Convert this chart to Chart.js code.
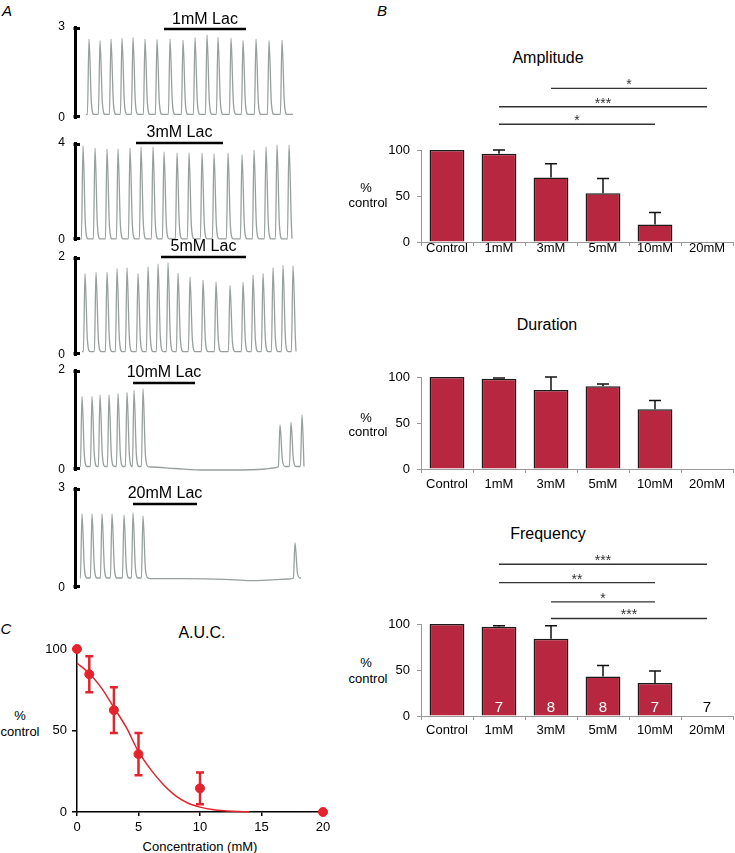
<!DOCTYPE html>
<html>
<head>
<meta charset="utf-8">
<title>Lactate responses</title>
<script src="https://cdn.jsdelivr.net/npm/chart.js@4.4.1/dist/chart.umd.min.js"></script>
<style>
  body { margin: 0; background: #fff; font-family: "Liberation Sans", Arial, sans-serif; }
  #fig { position: relative; width: 735px; height: 853px; overflow: hidden; }
  canvas { position: absolute; }
  .t { position: absolute; transform: translate(-50%, -50%); white-space: nowrap; line-height: 1; color: #000; font-size: 13px; }
  .p { font-style: italic; font-size: 15px; }
  .h { font-size: 16px; }
</style>
</head>
<body>
<div id="fig">
  <div class="t p" style="left:7px;top:10px">A</div>
  <div class="t p" style="left:382px;top:10px">B</div>
  <div class="t p" style="left:6px;top:628px">C</div>

  <canvas id="tr1" width="260" height="122" style="left:50px;top:0px"></canvas>
  <canvas id="tr2" width="260" height="128" style="left:50px;top:116px"></canvas>
  <canvas id="tr3" width="260" height="129" style="left:50px;top:230px"></canvas>
  <canvas id="tr4" width="260" height="131" style="left:50px;top:343px"></canvas>
  <canvas id="tr5" width="260" height="131" style="left:50px;top:461px"></canvas>

  <div class="t h" style="left:548px;top:58px">Amplitude</div>
  <div class="t" style="left:366px;top:187px">%</div>
  <div class="t" style="left:368px;top:202px">control</div>
  <canvas id="amp" width="375" height="224" style="left:360px;top:40px"></canvas>

  <div class="t h" style="left:547px;top:325px">Duration</div>
  <div class="t" style="left:366px;top:417px">%</div>
  <div class="t" style="left:368px;top:431px">control</div>
  <canvas id="dur" width="375" height="224" style="left:360px;top:267px"></canvas>

  <div class="t h" style="left:548px;top:534px">Frequency</div>
  <div class="t" style="left:366px;top:662px">%</div>
  <div class="t" style="left:368px;top:678px">control</div>
  <canvas id="freq" width="375" height="224" style="left:360px;top:514px"></canvas>

  <div class="t h" style="left:202px;top:633px">A.U.C.</div>
  <div class="t" style="left:20px;top:715px">%</div>
  <div class="t" style="left:20px;top:731px">control</div>
  <div class="t" style="left:200px;top:846px">Concentration (mM)</div>
  <canvas id="auc" width="360" height="233" style="left:0px;top:620px"></canvas>
</div>

<script>
// ---- panel A: recordings (peak time, peak ratio) ----
var tr1Peaks = [14, 25, 36, 47, 58, 70, 82, 95, 108, 120, 132, 143, 156, 168, 181, 194, 207];
var tr1Amps  = [2.60, 2.55, 2.60, 2.63, 2.65, 2.60, 2.59, 2.60, 2.57, 2.65, 2.74, 2.66, 2.63, 2.55, 2.60, 2.55, 2.57];
var tr2Peaks = [8, 20, 32, 43, 55, 66, 78, 89, 102, 114, 127, 139, 153, 167, 179, 191, 202, 214];
var tr2Amps  = [3.88, 3.79, 3.75, 3.75, 3.79, 3.84, 3.84, 3.63, 3.59, 3.59, 3.59, 3.55, 3.59, 3.51, 3.71, 3.84, 3.92, 3.92];
var tr3Peaks = [10, 21, 32, 42, 52, 63, 73, 83, 93, 103, 115, 128, 141, 155, 168, 178, 188, 198, 208, 218];
var tr3Amps  = [1.66, 1.69, 1.69, 1.76, 1.78, 1.66, 1.80, 1.86, 1.88, 1.67, 1.59, 1.53, 1.49, 1.42, 1.48, 1.63, 1.66, 1.78, 1.83, 1.82];
var tr4Peaks = [7, 17, 25, 34, 43, 52, 59, 68, 205, 216, 227];
var tr4Amps  = [1.47, 1.47, 1.50, 1.50, 1.53, 1.55, 1.59, 1.62, 0.90, 0.95, 1.10];
var tr4FlatT = [76, 100, 130, 160, 190, 198];
var tr4FlatV = [0.06, 0.03, 0.00, 0.00, 0.02, 0.04];
var tr5Peaks = [7, 17, 27, 37, 49, 58, 68, 220];
var tr5Amps  = [2.22, 2.22, 2.22, 2.22, 2.19, 2.25, 2.16, 1.35];
var tr5FlatT = [76, 110, 150, 175, 200, 214];
var tr5FlatV = [0.28, 0.28, 0.26, 0.22, 0.25, 0.27];

// ---- panel B: % control ----
var groups   = ['Control', '1mM', '3mM', '5mM', '10mM', '20mM'];
var ampMean  = [100, 96, 70, 53, 19, 0];
var ampSem   = [0, 4, 15, 16, 13, 0];
var durMean  = [100, 98, 86, 90, 65, 0];
var durSem   = [0, 1, 14, 2.5, 9.5, 0];
var freqMean = [100, 97, 84, 43, 36, 0];
var freqSem  = [0, 1, 14, 12, 13, 0];
var freqN    = ['', '7', '8', '8', '7', '7'];

var ampSigFrom  = [2, 1, 1];
var ampSigTo    = [5, 5, 4];
var ampSigLevel = [167, 147, 128];
var ampSigMark  = ['*', '***', '*'];
var freqSigFrom  = [1, 1, 2, 2];
var freqSigTo    = [5, 4, 4, 5];
var freqSigLevel = [165, 145, 124, 106];
var freqSigMark  = ['***', '**', '*', '***'];

// ---- panel C: A.U.C. ----
var aucConc = [0, 1, 3, 5, 10, 20];
var aucMean = [100, 84.5, 62.5, 35.5, 14.5, 0];
var aucSem  = [0, 11, 14, 13, 9.7, 0];
var fitConc = [0, 1, 2, 3, 4, 5, 6, 7, 8, 9, 10, 11, 12, 13, 14];
var fitVal  = [91.4, 85, 76, 64, 52, 37, 26, 17, 10, 5.5, 3, 1.5, 0.7, 0.3, 0.1];

var FONT = '"Liberation Sans", Arial, sans-serif';
var RED = '#e5232b';
var BAR = '#b72840';

Chart.defaults.font.family = FONT;
Chart.defaults.font.size = 13;
Chart.defaults.color = '#000';

// each transient: quick rise, fast fall then a short tail back to baseline
function buildTrace(peaks, amps, base, start, end, flatT, flatV) {
	var pts = [{x: start, y: base}, {x: end, y: base}];
	for (var i = 0; i < peaks.length; i++) {
		var h = amps[i];
		pts.push({x: peaks[i] - 1.6, y: base});
		pts.push({x: peaks[i], y: h});
		pts.push({x: peaks[i] + 2.4, y: base + (h - base) * 0.15});
		pts.push({x: peaks[i] + 5, y: base});
	}
	flatT = flatT || [];
	for (var j = 0; j < flatT.length; j++) {
		pts.push({x: flatT[j], y: flatV[j]});
	}
	pts = pts.filter(function(p) { return p.x >= start && p.x <= end; });
	pts.sort(function(a, b) { return a.x - b.x; });
	return pts;
}

var drugPlugin = {
	id: 'drug',
	afterDatasetsDraw: function(chart, args, opts) {
		var ctx = chart.ctx, xs = chart.scales.x, ys = chart.scales.y, area = chart.chartArea;
		ctx.save();
		// bracket ends of the scale bar
		ctx.strokeStyle = '#000';
		ctx.lineWidth = 3;
		ctx.beginPath();
		ctx.moveTo(area.left - 1.5, area.top + 1.5);
		ctx.lineTo(area.left + 5, area.top + 1.5);
		ctx.moveTo(area.left - 1.5, area.bottom - 1.5);
		ctx.lineTo(area.left + 5, area.bottom - 1.5);
		ctx.stroke();
		// application bar
		var x0 = xs.getPixelForValue(opts.from), x1 = xs.getPixelForValue(opts.to), y = ys.getPixelForValue(opts.level);
		ctx.lineWidth = 2.5;
		ctx.beginPath();
		ctx.moveTo(x0, y);
		ctx.lineTo(x1, y);
		ctx.stroke();
		ctx.fillStyle = '#000';
		ctx.font = '16px ' + FONT;
		ctx.textAlign = 'center';
		ctx.textBaseline = 'middle';
		ctx.fillText(opts.label, (x0 + x1) / 2, y - 10);
		ctx.restore();
	}
};

function traceChart(id, pts, yMax, drug) {
	return new Chart(document.getElementById(id), {
		type : 'line',
		data : {
			datasets : [ {
				data : pts,
				borderColor : '#98a09e',
				borderWidth : 1.3,
				pointRadius : 0,
				cubicInterpolationMode : 'monotone',
				clip : false
			} ]
		},
		options : {
			responsive : false,
			animation : false,
			devicePixelRatio : 1,
			layout : { padding : { top : 27, bottom : 4, right : 5, left : 0 } },
			plugins : { legend : { display : false }, tooltip : { enabled : false }, drug : drug },
			scales : {
				x : { type : 'linear', display : false, min : 0, max : 230 },
				y : {
					min : 0, max : yMax,
					afterFit : function(s) { s.width = 25; s.paddingTop = 0; s.paddingBottom = 0; },
					ticks : { stepSize : yMax, padding : 10, font : { size : 12 } },
					grid : { display : false, drawTicks : false },
					border : { color : '#000', width : 3 }
				}
			}
		},
		plugins : [ drugPlugin ]
	});
}

traceChart('tr1', buildTrace(tr1Peaks, tr1Amps, 0.12, 11, 218), 3, {label : '1mM Lac', from : 89, to : 171, level : 2.93});
traceChart('tr2', buildTrace(tr2Peaks, tr2Amps, 0.05, 5, 217), 4, {label : '3mM Lac', from : 61, to : 148, level : 4});
traceChart('tr3', buildTrace(tr3Peaks, tr3Amps, 0.07, 7, 221), 2, {label : '5mM Lac', from : 86, to : 171, level : 2});
traceChart('tr4', buildTrace(tr4Peaks, tr4Amps, 0.07, 5, 229, tr4FlatT, tr4FlatV), 2, {label : '10mM Lac', from : 58, to : 120, level : 1.74});
traceChart('tr5', buildTrace(tr5Peaks, tr5Amps, 0.30, 5, 226, tr5FlatT, tr5FlatV), 3, {label : '20mM Lac', from : 58, to : 122, level : 2.52});

function makeBarExtras(mean, sem, sigFrom, sigTo, sigLevel, sigMark, nLab) {
	return {
		id : 'extras',
		afterDatasetsDraw : function(chart) {
			var ctx = chart.ctx, xs = chart.scales.x, ys = chart.scales.y;
			ctx.save();
			// error bars (upper half only)
			ctx.strokeStyle = '#111';
			ctx.lineWidth = 1.5;
			for (var i = 0; i < mean.length; i++) {
				if (!sem[i]) continue;
				var bx = xs.getPixelForValue(i);
				var y0 = ys.getPixelForValue(mean[i]), y1 = ys.getPixelForValue(mean[i] + sem[i]);
				ctx.beginPath();
				ctx.moveTo(bx, y0);
				ctx.lineTo(bx, y1);
				ctx.moveTo(bx - 6, y1);
				ctx.lineTo(bx + 6, y1);
				ctx.stroke();
			}
			// significance lines
			ctx.strokeStyle = '#333';
			ctx.fillStyle = '#333';
			ctx.lineWidth = 1.4;
			ctx.font = '14px ' + FONT;
			ctx.textAlign = 'center';
			ctx.textBaseline = 'alphabetic';
			for (var k = 0; k < sigFrom.length; k++) {
				var xa = xs.getPixelForValue(sigFrom[k]), xb = xs.getPixelForValue(sigTo[k]);
				var yl = ys.getPixelForValue(sigLevel[k]);
				ctx.beginPath();
				ctx.moveTo(xa, yl);
				ctx.lineTo(xb, yl);
				ctx.stroke();
				ctx.fillText(sigMark[k], (xa + xb) / 2, yl + 1);
			}
			// n per group
			if (nLab) {
				ctx.font = '15px ' + FONT;
				ctx.textBaseline = 'middle';
				for (var j = 0; j < nLab.length; j++) {
					if (!nLab[j]) continue;
					ctx.fillStyle = mean[j] > 10 ? '#fff' : '#000';
					ctx.fillText(nLab[j], xs.getPixelForValue(j), ys.getPixelForValue(0) - 8);
				}
			}
			ctx.restore();
		}
	};
}

function barChart(id, mean, extras, labelPad) {
	return new Chart(document.getElementById(id), {
		type : 'bar',
		data : {
			labels : groups,
			datasets : [ {
				data : mean,
				backgroundColor : BAR,
				borderColor : '#1b1b1b',
				borderWidth : function(c) { return c.raw ? 1.5 : 0; },
				barPercentage : 0.67,
				categoryPercentage : 1
			} ]
		},
		options : {
			responsive : false,
			animation : false,
			devicePixelRatio : 1,
			layout : { padding : { top : 110, right : 2, left : 0, bottom : 0 } },
			plugins : { legend : { display : false }, tooltip : { enabled : false } },
			scales : {
				x : {
					afterFit : function(s) { s.height = 22; },
					grid : { drawOnChartArea : false, tickLength : 4, color : '#999' },
					border : { color : '#999' },
					ticks : { padding : labelPad, maxRotation : 0, autoSkip : false }
				},
				y : {
					min : 0, max : 100,
					afterFit : function(s) { s.width = 61; },
					ticks : { stepSize : 50, padding : 7 },
					grid : { drawOnChartArea : false, tickLength : 4, color : '#999' },
					border : { color : '#999' }
				}
			}
		},
		plugins : [ extras ]
	});
}

barChart('amp', ampMean, makeBarExtras(ampMean, ampSem, ampSigFrom, ampSigTo, ampSigLevel, ampSigMark), -5);
barChart('dur', durMean, makeBarExtras(durMean, durSem, [], [], [], []), 3.5);
barChart('freq', freqMean, makeBarExtras(freqMean, freqSem, freqSigFrom, freqSigTo, freqSigLevel, freqSigMark, freqN), 3);

var aucErrPlugin = {
	id : 'aucErr',
	afterDatasetsDraw : function(chart) {
		var ctx = chart.ctx, xs = chart.scales.x, ys = chart.scales.y;
		ctx.save();
		ctx.strokeStyle = RED;
		ctx.lineWidth = 2.5;
		for (var i = 0; i < aucConc.length; i++) {
			if (!aucSem[i]) continue;
			var x = xs.getPixelForValue(aucConc[i]);
			var yt = ys.getPixelForValue(aucMean[i] + aucSem[i]), yb = ys.getPixelForValue(aucMean[i] - aucSem[i]);
			ctx.beginPath();
			ctx.moveTo(x, yt);
			ctx.lineTo(x, yb);
			ctx.moveTo(x - 4, yt);
			ctx.lineTo(x + 4, yt);
			ctx.moveTo(x - 4, yb);
			ctx.lineTo(x + 4, yb);
			ctx.stroke();
		}
		ctx.restore();
	}
};

new Chart(document.getElementById('auc'), {
	type : 'line',
	data : {
		datasets : [ {
			data : fitConc.map(function(c, i) { return {x : c, y : fitVal[i]}; }),
			borderColor : RED,
			borderWidth : 1.5,
			pointRadius : 0,
			cubicInterpolationMode : 'monotone',
			clip : false
		}, {
			data : aucConc.map(function(c, i) { return {x : c, y : aucMean[i]}; }),
			showLine : false,
			pointRadius : 4.5,
			pointBackgroundColor : RED,
			pointBorderColor : RED,
			clip : false
		} ]
	},
	options : {
		responsive : false,
		animation : false,
		devicePixelRatio : 1,
		layout : { padding : { top : 29, right : 37, left : 0, bottom : 0 } },
		plugins : { legend : { display : false }, tooltip : { enabled : false } },
		scales : {
			x : {
				type : 'linear', min : 0, max : 20,
				afterFit : function(s) { s.height = 41; },
				ticks : { stepSize : 5, padding : 4 },
				grid : { drawOnChartArea : false, tickLength : 4, color : '#000', lineWidth : 1.5 },
				border : { color : '#000', width : 1.5 }
			},
			y : {
				min : 0, max : 100,
				afterFit : function(s) { s.width = 77; },
				ticks : { stepSize : 50, padding : 5 },
				grid : { drawOnChartArea : false, tickLength : 5, color : '#000', lineWidth : 1.5 },
				border : { color : '#000', width : 1.5 }
			}
		}
	},
	plugins : [ aucErrPlugin ]
});
</script>
</body>
</html>
